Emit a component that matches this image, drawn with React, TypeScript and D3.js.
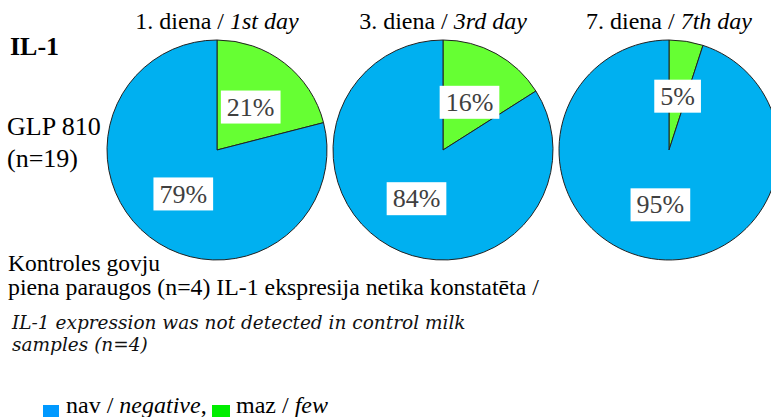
import React, { useEffect, useRef } from 'react';
import * as d3 from 'd3';

// dienas un to virsraksti
const dayNum = ['1.', '3.', '7.'];
const dayEn = ['1st day', '3rd day', '7th day'];
// maz / few un nav / negative procentos
const fewPct = [21, 16, 5];
const negPct = [79, 84, 95];

const sliceColors = ['#66FF33', '#00B0F0']; // few, negative
const legendColors = ['#0099FF', '#00EE00'];

const W = 771;
const H = 417;

export default function App() {
  const svgRef = useRef<SVGSVGElement>(null);

  useEffect(() => {
    if (!svgRef.current) return;
    const svg = d3.select(svgRef.current);
    svg.selectAll('*').remove();

    const serif = 'Liberation Serif, Times New Roman, serif';
    const r = 110;
    const cy = 150;

    const xScale = d3.scalePoint<string>()
      .domain(dayNum)
      .range([217, 669]);

    const pie = d3.pie<number>().sort(null).value(d => d);
    const arc = d3.arc<d3.PieArcDatum<number>>().innerRadius(0).outerRadius(r);
    const labelArc = d3.arc<d3.PieArcDatum<number>>().innerRadius(r * 0.5).outerRadius(r * 0.5);

    dayNum.forEach((day, i) => {
      const cx = xScale(day)!;

      // virsraksts
      const title = svg.append('text')
        .attr('x', cx)
        .attr('y', 29)
        .attr('text-anchor', 'middle')
        .attr('font-family', serif)
        .attr('font-size', 24)
        .attr('fill', '#000');
      title.append('tspan').text(`${day} diena / `);
      title.append('tspan').attr('font-style', 'italic').text(dayEn[i]);

      const g = svg.append('g').attr('transform', `translate(${cx},${cy})`);
      const arcs = pie([fewPct[i], negPct[i]]);

      g.selectAll('path')
        .data(arcs)
        .enter()
        .append('path')
        .attr('d', arc)
        .attr('fill', (_, j) => sliceColors[j])
        .attr('stroke', '#222')
        .attr('stroke-width', 1);

      // procentu etiķetes ar baltu fonu
      arcs.forEach(a => {
        const [lx, ly] = labelArc.centroid(a);
        const lg = g.append('g');
        const rect = lg.append('rect').attr('fill', '#fff');
        const t = lg.append('text')
          .attr('x', lx)
          .attr('y', ly)
          .attr('dy', '0.35em')
          .attr('text-anchor', 'middle')
          .attr('font-family', serif)
          .attr('font-size', 26)
          .attr('fill', '#404040')
          .text(`${a.data}%`);
        const bb = (t.node() as SVGTextElement).getBBox();
        rect
          .attr('x', lx - bb.width / 2 - 6)
          .attr('y', ly - 16)
          .attr('width', bb.width + 12)
          .attr('height', 33);
      });
    });

    // kreisās puses teksti
    svg.append('text')
      .attr('x', 10).attr('y', 55)
      .attr('font-family', serif).attr('font-size', 26).attr('font-weight', 'bold')
      .text('IL-1');
    svg.append('text')
      .attr('x', 7).attr('y', 135)
      .attr('font-family', serif).attr('font-size', 26)
      .text('GLP 810');
    svg.append('text')
      .attr('x', 7).attr('y', 167)
      .attr('font-family', serif).attr('font-size', 26)
      .text('(n=19)');

    svg.append('text')
      .attr('x', 8).attr('y', 271)
      .attr('font-family', serif).attr('font-size', 23.5)
      .text('Kontroles govju');
    svg.append('text')
      .attr('x', 8).attr('y', 295)
      .attr('font-family', serif).attr('font-size', 23.8)
      .text('piena paraugos (n=4) IL-1 ekspresija netika konstatēta /');

    const ital = 'DejaVu Serif, serif';
    svg.append('text')
      .attr('x', 12).attr('y', 329)
      .attr('font-family', ital).attr('font-size', 18.5).attr('font-style', 'italic')
      .attr('fill', '#111')
      .text('IL-1 expression was not detected in control milk');
    svg.append('text')
      .attr('x', 12).attr('y', 351)
      .attr('font-family', ital).attr('font-size', 18.5).attr('font-style', 'italic')
      .attr('fill', '#111')
      .text('samples (n=4)');

    // leģenda
    svg.append('rect')
      .attr('x', 43).attr('y', 405).attr('width', 16).attr('height', 12)
      .attr('fill', legendColors[0]);
    const l1 = svg.append('text')
      .attr('x', 66).attr('y', 413)
      .attr('font-family', serif).attr('font-size', 24);
    l1.append('tspan').text('nav / ');
    l1.append('tspan').attr('font-style', 'italic').text('negative');
    l1.append('tspan').text(',');

    svg.append('rect')
      .attr('x', 212).attr('y', 405).attr('width', 18).attr('height', 12)
      .attr('fill', legendColors[1]);
    const l2 = svg.append('text')
      .attr('x', 236).attr('y', 413)
      .attr('font-family', serif).attr('font-size', 24);
    l2.append('tspan').text('maz / ');
    l2.append('tspan').attr('font-style', 'italic').text('few');
  }, []);

  return (
    <svg
      ref={svgRef}
      width={W}
      height={H}
      style={{ position: 'absolute', left: 0, top: 0, background: '#fff' }}
    />
  );
}
